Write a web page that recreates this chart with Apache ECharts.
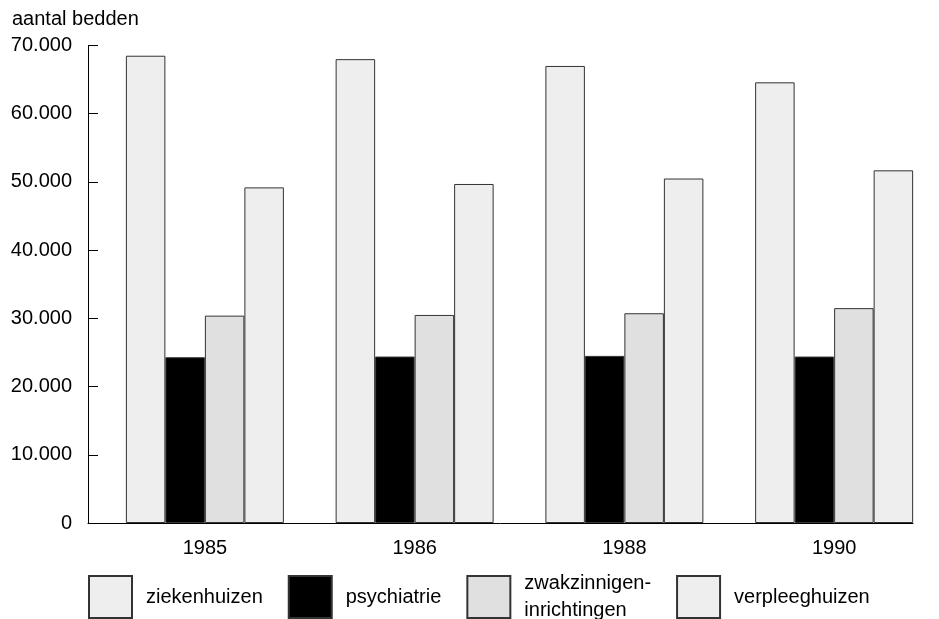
<!DOCTYPE html>
<html><head><meta charset="utf-8">
<script src="https://cdn.jsdelivr.net/npm/echarts@6/dist/echarts.min.js"></script>
<style>html,body{margin:0;padding:0;background:#fff}#c{width:939px;height:619px}</style>
</head><body><div id="c"></div>
<script>
const years = ['1985', '1986', '1988', '1990'];
const ziekenhuizen = [68500, 68000, 67000, 64600];
const psychiatrie = [24300, 24400, 24500, 24400];
const zwakzinnigen = [30400, 30500, 30750, 31500];
const verpleeghuizen = [49200, 49700, 50500, 51700];
const yTicks = [0, 10000, 20000, 30000, 40000, 50000, 60000, 70000];

const FONT = 'Liberation Sans, Arial, Helvetica, sans-serif';
const chart = echarts.init(document.getElementById('c'), null, {renderer: 'canvas'});
const fmt = v => v === 0 ? '0' : (v / 1000).toFixed(0) + '.000';
const mk = (name, data, color) => ({
  name, type: 'bar', data, xAxisIndex: 1, yAxisIndex: 1,
  barWidth: 39.5, barGap: '0%',
  itemStyle: {color, borderColor: '#333', borderWidth: 1},
  emphasis: {disabled: true}, animation: false
});
chart.setOption({
  animation: false,
  textStyle: {fontFamily: FONT},
  title: {text: 'aantal bedden', left: 12, top: 9, padding: 0,
    textStyle: {fontFamily: FONT, fontSize: 20, fontWeight: 'normal', color: '#000'}},
  grid: [
    {left: 88, right: 26, top: 45.5, bottom: 96},
    {left: 100, right: 0, top: 45.5, bottom: 96}
  ],
  xAxis: [
    {gridIndex: 0, type: 'category', data: years, axisLine: {lineStyle: {color: '#000', width: 1}},
     axisTick: {show: false}, axisLabel: {show: false}},
    {gridIndex: 1, type: 'category', data: years, axisLine: {show: false}, axisTick: {show: false},
     axisLabel: {color: '#000', fontSize: 20, fontFamily: FONT, margin: 15}}
  ],
  yAxis: [
    {gridIndex: 0, type: 'value', min: 0, max: 70000, interval: 10000,
     axisLine: {show: true, lineStyle: {color: '#000', width: 1}},
     axisTick: {show: true, inside: true, length: 10, lineStyle: {color: '#000'}},
     splitLine: {show: false},
     axisLabel: {color: '#000', fontSize: 20, fontFamily: FONT, margin: 16,
       formatter: v => yTicks.includes(v) ? fmt(v) : ''}},
    {gridIndex: 1, type: 'value', min: 0, max: 70000, interval: 10000, show: false, splitLine: {show: false}}
  ],
  legend: {
    left: 88, top: 570, padding: 0, itemWidth: 43, itemHeight: 42, itemGap: 25,
    icon: 'rect', selectedMode: false,
    textStyle: {color: '#000', fontSize: 20, fontFamily: FONT, lineHeight: 27, padding: [0, 0, 0, 9]},
    data: ['ziekenhuizen', 'psychiatrie', 'zwakzinnigen-\ninrichtingen', 'verpleeghuizen']
  },
  series: [
    mk('ziekenhuizen', ziekenhuizen, '#eeeeee'),
    mk('psychiatrie', psychiatrie, '#000000'),
    mk('zwakzinnigen-\ninrichtingen', zwakzinnigen, '#e0e0e0'),
    mk('verpleeghuizen', verpleeghuizen, '#eeeeee')
  ]
});
</script></body></html>
